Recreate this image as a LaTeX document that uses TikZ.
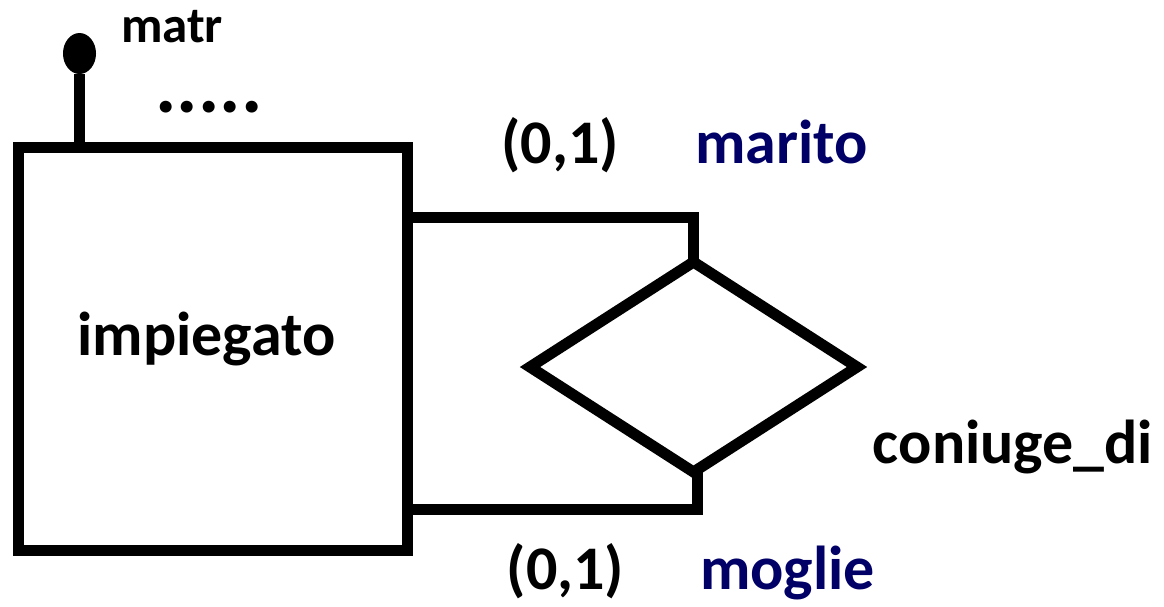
\documentclass[tikz,border=0pt]{standalone}
\usepackage{fontspec}
\setmainfont{Carlito}
\usetikzlibrary{shapes.geometric}
\definecolor{rolenavy}{RGB}{0,0,102}
\tikzset{
  thick line/.style={line width=11pt},
  entity/.style={draw, thick line, rectangle, inner sep=0pt, outer sep=0pt, minimum width=388.5pt, minimum height=403pt},
  relation/.style={draw, thick line, diamond, inner sep=0pt, outer sep=0pt, aspect=1.557, minimum width=327pt, minimum height=210pt},
  keyattr/.style={ellipse, fill=black, draw=none, inner sep=0pt, outer sep=0pt, minimum width=33pt, minimum height=41pt},
  txt/.style={inner sep=0pt, anchor=base, font=\bfseries\fontsize{62}{62}\selectfont},
  role/.style={txt, text=rolenavy},
  conn/.style={draw, thick line, line join=miter}
}
\begin{document}
\begin{tikzpicture}[x=1pt, y=-1pt]
\useasboundingbox (0,0) rectangle (1164,606);
% entity
\node[entity] (imp) at (213,348.5) {};
\node[txt] (impl) at (206.5,355) {impiegato};
% key attribute
\node[keyattr] (matr) at (79.5,53.5) {};
\draw[thick line] (imp.north -| matr) -- (matr.south);
\node[txt, font=\bfseries\fontsize{51}{51}\selectfont] (matrl) at (172,42) {matr};
\node[txt, font=\bfseries\fontsize{80}{80}\selectfont] (dots) at (209,112) {.....};
% relationship
\node[relation] (rel) at (693.5,367) {};
\node[txt] (rell) at (1013,463) {coniuge\_di};
% connectors
\coordinate (t1) at (693.5,217);
\coordinate (b1) at (697,509);
\draw[conn] (imp.east |- t1) -| (rel.north);
\draw[conn] (rel.south -| b1) |- (imp.east |- b1);
% labels
\node[txt] (c1) at (560,163) {(0,1)};
\node[role] (r1) at (781.5,163) {marito};
\node[txt] (c2) at (565.5,589) {(0,1)};
\node[role] (r2) at (787.5,589) {moglie};
\end{tikzpicture}
\end{document}
